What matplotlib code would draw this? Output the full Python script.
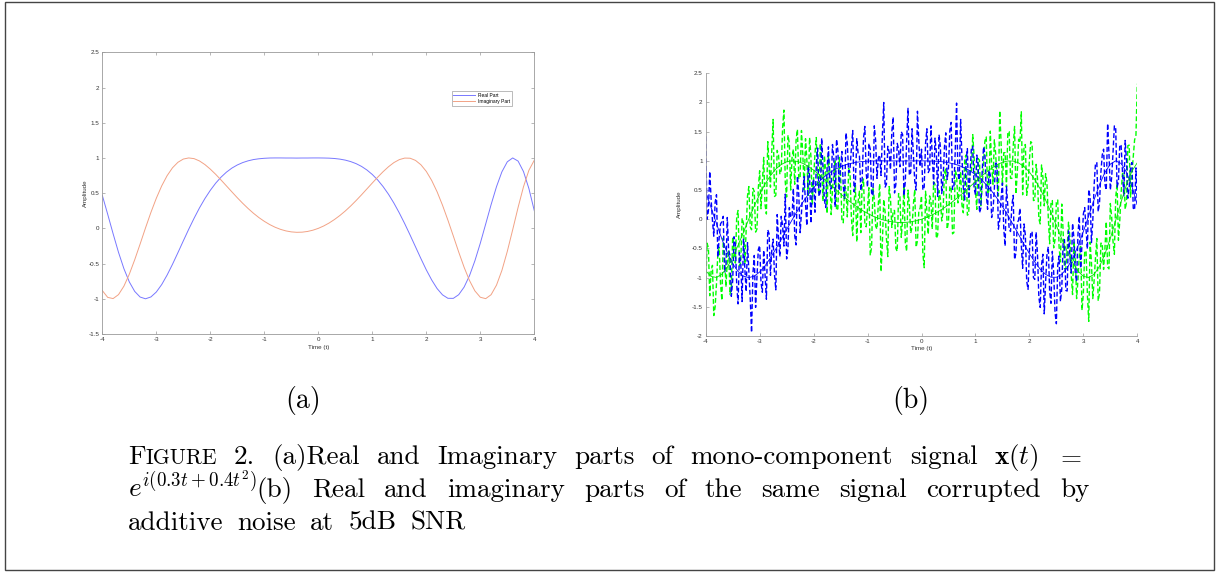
import numpy as np
import matplotlib
matplotlib.use("Agg")
import matplotlib.pyplot as plt
from matplotlib.patches import Rectangle

plt.rcParams['font.family'] = ['Liberation Sans', 'DejaVu Sans']
plt.rcParams['mathtext.fontset'] = 'cm'
plt.rcParams['axes.unicode_minus'] = False

# ---------------- data ----------------
t_clean = np.linspace(-4, 4, 81)
real_part = [0.469, 0.200, -0.076, -0.340, -0.572, -0.760, -0.895, -0.975, -1.000, -0.974,
             -0.904, -0.798, -0.663, -0.510, -0.346, -0.178, -0.013, 0.144, 0.291, 0.423,
             0.540, 0.642, 0.728, 0.799, 0.856, 0.900, 0.934, 0.959, 0.977, 0.988,
             0.995, 0.999, 1.000, 1.000, 0.999, 0.999, 0.998, 0.999, 0.999, 1.000,
             1.000, 0.999, 0.997, 0.992, 0.983, 0.969, 0.948, 0.919, 0.880, 0.829,
             0.765, 0.687, 0.593, 0.484, 0.359, 0.219, 0.067, -0.095, -0.262, -0.429,
             -0.589, -0.733, -0.855, -0.944, -0.993, -0.994, -0.942, -0.834, -0.672, -0.460,
             -0.211, 0.062, 0.337, 0.592, 0.803, 0.945, 1.000, 0.955, 0.806, 0.565,
             0.251]
imag_part = [-0.883, -0.980, -0.997, -0.941, -0.821, -0.651, -0.446, -0.223, 0.006, 0.226,
             0.427, 0.603, 0.748, 0.860, 0.938, 0.984, 1.000, 0.990, 0.957, 0.906,
             0.841, 0.767, 0.686, 0.602, 0.518, 0.435, 0.356, 0.282, 0.214, 0.153,
             0.100, 0.054, 0.016, -0.014, -0.036, -0.050, -0.056, -0.054, -0.044, -0.026,
             0.000, 0.034, 0.076, 0.126, 0.183, 0.247, 0.318, 0.395, 0.476, 0.560,
             0.644, 0.727, 0.805, 0.875, 0.934, 0.976, 0.998, 0.996, 0.965, 0.903,
             0.809, 0.680, 0.519, 0.329, 0.117, -0.108, -0.336, -0.552, -0.741, -0.888,
             -0.978, -0.998, -0.942, -0.806, -0.597, -0.327, -0.019, 0.298, 0.591, 0.825,
             0.968]

# noisy samples (5 dB SNR), on the 0.05 grid and halfway between grid points
real_noisy_grid = [1.42, 0.14, 0.35, -0.29, 0.42, -0.31, -0.04, -0.91, 0.03, -0.62,
                   -1.06, -0.43, -1.45, -0.74, -0.33, -1.24, -0.90, -1.94, -0.62, -0.99,
                   -0.45, -1.25, -0.95, -0.18, -0.96, -0.34, -1.21, -0.33, 0.05, -0.46,
                   -0.68, 0.20, 0.04, -0.28, 0.74, -0.23, 0.49, 0.26, 0.92, -0.07,
                   0.69, 0.94, 0.39, 1.39, 0.33, 0.87, 0.60, 1.28, 0.21, 1.18,
                   0.90, 0.57, 1.48, 0.80, 1.21, 0.47, 1.38, 1.08, 0.69, 1.59,
                   0.55, 1.20, 0.40, 1.35, 1.05, 0.75, 2.00, 0.60, 1.15, 1.50,
                   0.45, 1.30, 0.90, 1.45, 0.65, 1.90, 0.80, 1.10, 0.50, 1.35,
                   1.20, 0.55, 1.55, 0.85, 1.05, 1.39, 0.39, 1.24, 0.68, 1.48,
                   0.87, 1.66, 0.55, 1.99, 0.67, 1.05, 0.33, 1.21, 0.78, 1.25,
                   0.42, 0.93, 0.19, 1.24, 0.44, 0.84, 0.03, 0.52, 0.91, -0.01,
                   0.62, -0.46, 0.22, -0.21, 0.41, -0.58, -0.01, -0.45, -0.08, -1.06,
                   -0.54, -0.21, -1.03, -0.60, -1.51, -0.60, -1.09, -0.47, -1.44, -0.90,
                   -1.79, -0.63, -1.19, -0.35, -1.23, -0.61, -0.07, -0.92, -0.26, -0.84,
                   0.09, -0.18, 0.51, -0.40, 0.59, 0.97, 0.29, 1.10, 0.60, 1.64,
                   0.50, 1.14, 1.55, 0.64, 1.26, 0.39, 1.01, 0.55, 0.97, 0.16,
                   0.25]
real_noisy_mid = [0.00, 0.82, -0.02, 0.29, -0.65, -0.08, 0.05, -0.82, -0.52, -1.32,
                  -0.30, -1.12, -0.57, -1.41, -0.84, -0.40, -1.35, -0.93, -1.51, -0.52,
                  -1.08, -0.53, -1.37, -0.25, -0.53, -0.95, 0.08, -0.64, -0.11, 0.43,
                  -0.49, 0.04, 0.53, -0.44, 0.43, 0.11, 0.73, -0.11, 0.75, 0.56,
                  0.12, 1.22, 0.47, 0.86, 0.20, 1.24, 0.52, 1.05, 1.37, 0.49,
                  1.16, 0.33, 1.29, 0.86, 1.52, 0.63, 1.13, 0.49, 1.39, 0.79,
                  1.30, 0.45, 1.60, 0.70, 1.10, 1.45, 0.55, 1.25, 0.85, 1.75,
                  0.60, 1.20, 1.50, 0.40, 1.35, 0.75, 1.55, 0.65, 1.85, 0.90,
                  0.50, 1.30, 0.80, 1.60, 0.60, 1.15, 1.45, 0.44, 1.23, 0.68,
                  1.52, 0.51, 1.15, 0.78, 1.71, 0.54, 0.97, 0.35, 1.22, 0.54,
                  1.10, 0.11, 0.82, 1.12, 0.17, 0.76, 0.15, 0.99, -0.17, 0.36,
                  -0.17, 0.56, -0.17, 0.24, -0.69, -0.07, 0.19, -0.84, -0.27, -1.20,
                  -0.23, -1.00, -0.22, -1.33, -0.78, -1.62, -0.61, -1.23, -0.55, -1.60,
                  -0.79, -1.41, -0.42, -1.22, -0.20, -0.92, -0.32, -1.07, 0.05, -0.43,
                  0.20, -0.51, 0.38, -0.03, 0.96, 0.13, 0.80, 1.20, 0.50, 1.12,
                  0.72, 1.60, 0.55, 1.28, 0.83, 1.35, 0.36, 0.89, 0.19, 0.88]
imag_noisy_grid = [-1.18, -0.49, -0.88, -1.65, -1.10, -0.48, -1.39, -0.59, -0.72, -1.29,
                   -0.30, -0.75, 0.15, -0.74, -0.07, -0.16, 0.56, -0.18, 0.48, -0.17,
                   0.83, 0.62, 0.25, 1.33, 0.55, 1.71, 0.41, 1.10, 0.84, 1.87,
                   0.38, 1.30, 1.05, 0.60, 1.54, 0.73, 1.11, 1.38, 0.41, 1.08,
                   0.69, 1.40, 0.42, 0.83, 1.09, 0.10, 0.85, 0.51, 1.02, 0.18,
                   0.79, -0.06, 0.51, 0.87, 0.03, 0.30, -0.39, 0.48, 0.60, -0.07,
                   0.20, -0.62, 0.55, -0.12, 0.27, -0.90, 0.34, -0.33, 0.56, -0.14,
                   0.15, -0.55, 0.39, -0.01, -0.40, 0.50, -0.24, 0.26, -0.48, 0.14,
                   0.40, -0.83, 0.13, 0.40, -0.17, 0.60, -0.27, 0.35, 0.13, 0.86,
                   -0.05, 0.53, -0.23, 0.76, 0.50, 0.24, 1.03, 0.07, 0.86, 1.45,
                   0.49, 1.04, 0.23, 0.97, 1.41, 0.49, 0.93, 1.36, 0.68, 1.86,
                   0.58, 1.14, 1.50, 0.70, 1.25, 0.43, 1.37, 1.84, 1.25, 0.41,
                   1.01, 1.30, 0.33, 0.70, -0.08, 0.73, 0.78, 0.03, 0.27, -0.49,
                   0.29, -0.47, 0.26, -0.85, -0.50, -0.30, -1.29, -0.62, -1.04, -0.44,
                   -1.28, -0.55, -1.75, -0.73, -1.04, -0.33, -1.26, -0.41, -0.50, -0.82,
                   0.27, -0.38, 0.38, -0.36, 0.45, 0.80, 0.29, 1.27, 0.78, 1.36,
                   2.32]
imag_noisy_mid = [-0.41, -1.31, -0.79, -1.50, -0.59, -1.11, -0.32, -1.16, -0.53, -1.15,
                  -0.50, 0.05, -0.80, 0.02, -0.77, 0.40, -0.13, 0.53, -0.22, 0.53,
                  0.18, 1.06, 0.09, 0.92, 1.18, 0.39, 1.18, 0.77, 1.56, 0.63,
                  1.44, 0.50, 1.20, 1.35, 0.69, 1.52, 0.50, 1.02, 1.40, 0.26,
                  1.12, 0.59, 1.30, 0.31, 0.82, 1.08, 0.08, 0.79, 0.15, 1.06,
                  -0.03, 0.58, 0.04, 0.80, -0.28, 0.58, 0.30, -0.23, 0.69, -0.13,
                  0.54, -0.48, 0.34, -0.17, 0.61, -0.41, 0.13, -0.64, 0.36, 0.15,
                  -0.50, 0.44, -0.31, 0.59, -0.55, 0.25, -0.14, 0.51, -0.37, 0.19,
                  -0.59, 0.48, -0.26, 0.32, 0.64, -0.33, 0.49, -0.03, 0.80, -0.17,
                  0.57, -0.25, 0.84, 0.28, 0.82, 0.11, 1.10, 0.09, 0.83, 1.07,
                  0.17, 1.01, 0.55, 1.34, 0.43, 1.51, 0.60, 1.12, 0.40, 1.32,
                  1.14, 0.55, 1.50, 0.70, 1.59, 0.78, 1.31, 0.42, 1.28, 0.59,
                  1.33, 0.32, 0.94, 0.01, 0.93, 0.23, 0.63, -0.42, 0.32, -0.35,
                  0.33, -0.73, -0.20, -0.85, -0.05, -0.95, -0.38, -1.36, -0.62, -1.56,
                  -0.54, -1.30, -0.39, -1.36, -0.66, -1.40, -0.41, -0.86, -0.04, -0.85,
                  0.04, -0.60, 0.61, -0.03, 0.78, 0.17, 1.26, 0.38, 1.07, 1.44]

xticks = [-4, -3, -2, -1, 0, 1, 2, 3, 4]
xtick_labels = ['-4', '-3', '-2', '-1', '0', '1', '2', '3', '4']
yticks_a = [-1.5, -1, -0.5, 0, 0.5, 1, 1.5, 2, 2.5]
ytick_labels_a = ['-1.5', '-1', '-0.5', '0', '0.5', '1', '1.5', '2', '2.5']
yticks_b = [-2, -1.5, -1, -0.5, 0, 0.5, 1, 1.5, 2, 2.5]
ytick_labels_b = ['-2', '-1.5', '-1', '-0.5', '0', '0.5', '1', '1.5', '2', '2.5']

# interleave grid and mid-grid samples into one noisy series
t_noisy = np.linspace(-4, 4, 321)
real_noisy = np.empty(321)
real_noisy[0::2] = real_noisy_grid
real_noisy[1::2] = real_noisy_mid
imag_noisy = np.empty(321)
imag_noisy[0::2] = imag_noisy_grid
imag_noisy[1::2] = imag_noisy_mid

# ---------------- figure ----------------
W, H = 1218, 573
fig = plt.figure(figsize=(W / 100, H / 100), dpi=100)
fig.patch.set_facecolor('white')


def fx(px):
    return px / W


def fy(py):
    return 1 - py / H


SPINE = '#9a9a9a'
TXT = '#333333'
SMALL = 4.5


def style(ax, yticks, ylabels, box):
    ax.set_xlim(-4, 4)
    ax.set_xticks(xticks, labels=xtick_labels)
    ax.set_yticks(yticks, labels=ylabels)
    ax.set_ylim(yticks[0], yticks[-1])
    ax.tick_params(direction='in', length=2.5, width=0.5, color=SPINE,
                   labelsize=SMALL, labelcolor=TXT, pad=2.3,
                   top=box, right=box)
    for name, sp in ax.spines.items():
        sp.set_color(SPINE)
        sp.set_linewidth(0.6)
        if not box and name in ('top', 'right'):
            sp.set_visible(False)
    ax.set_facecolor('white')


# panel (a)
axA = fig.add_axes([fx(102.3), fy(334), (534.3 - 102.3) / W, (334 - 52.3) / H])
axA.plot(t_clean, real_part, color='#7878ff', lw=0.7, label='Real Part')
axA.plot(t_clean, imag_part, color='#f2a285', lw=0.7, label='Imaginary Part')
style(axA, yticks_a, ytick_labels_a, True)
axA.set_xlabel('Time (t)', fontsize=SMALL, color=TXT)
axA.set_ylabel('Amplitude', fontsize=SMALL, color=TXT)
axA.xaxis.set_label_coords(0.5, -0.047)
axA.xaxis.label.set_va('center')
axA.yaxis.set_label_coords(-0.040, 0.5)
axA.yaxis.label.set_va('center')
leg = axA.legend(loc='upper right', bbox_to_anchor=(0.948, 0.862), fontsize=3.5,
                 frameon=True, fancybox=False, edgecolor='#888888', handlelength=4.5,
                 borderpad=0.35, labelspacing=0.25, handletextpad=0.6, borderaxespad=0)
leg.get_frame().set_linewidth(0.5)

# panel (b)
axB = fig.add_axes([fx(705.7), fy(336), (1137.3 - 705.7) / W, (336 - 73.3) / H])
axB.plot(t_noisy, imag_noisy, color='#00ff00', lw=1.0, ls=(0, (3.5, 1.8)))
axB.plot(t_noisy, real_noisy, color='#0000ff', lw=1.0, ls=(0, (3.5, 1.8)))
axB.plot(t_clean, real_part, color='#0000ff', lw=0.6)
axB.plot(t_clean, imag_part, color='#00e000', lw=0.6)
style(axB, yticks_b, ytick_labels_b, False)
axB.set_xlabel('Time (t)', fontsize=SMALL, color=TXT)
axB.set_ylabel('Amplitude', fontsize=SMALL, color=TXT)
axB.xaxis.set_label_coords(0.5, -0.048)
axB.xaxis.label.set_va('center')
axB.yaxis.set_label_coords(-0.060, 0.5)
axB.yaxis.label.set_va('center')

# ---------------- captions ----------------
CM = 'cmr10'
S = 19.5
LAB = 20.0
fig.text(fx(303), fy(407.7), '(a)', family=CM, size=LAB, ha='center', va='baseline')
fig.text(fx(911), fy(407.7), '(b)', family=CM, size=LAB, ha='center', va='baseline')

renderer = fig.canvas.get_renderer()


def measure(txt, size):
    a = fig.text(0, 0, txt, family=CM, size=size)
    w = a.get_window_extent(renderer).width
    a.remove()
    return w


def draw_line(words, x0, yb, x1):
    widths = [sum(measure(t, s) for t, s in w) for w in words]
    gap = (x1 - x0 - sum(widths)) / (len(words) - 1)
    x = x0
    for w, wd in zip(words, widths):
        xx = x
        for t, s in w:
            fig.text(fx(xx), fy(yb), t, family=CM, size=s, ha='left', va='baseline',
                     color='black')
            xx += measure(t, s)
        x += wd + gap


def plain(words):
    return [[(w, S)] for w in words]


line1 = ([[('F', S), ('IGURE', S * 0.8)], [('2.', S)], [('(a)Real', S)]]
         + plain(['and', 'Imaginary', 'parts', 'of', 'mono-component', 'signal'])
         + [[(r'$\mathbf{x}(t)$', S)], [(r'$=$', S)]])
line2 = ([[(r'$e^{i(0.3t+0.4t^2)}$', S), ('(b)', S)]]
         + plain(['Real', 'and', 'imaginary', 'parts', 'of', 'the', 'same', 'signal',
                  'corrupted', 'by']))
line3 = plain(['additive', 'noise', 'at', '5dB', 'SNR'])
draw_line(line1, 127.7, 464.3, 1082.0)
draw_line(line2, 127.7, 497.0, 1089.3)
draw_line(line3, 127.7, 530.0, 466.0)

# page border
fig.add_artist(Rectangle((fx(5), fy(570)), (1213.5 - 5) / W, (570 - 2) / H,
                         transform=fig.transFigure, fill=False, ec='#444444', lw=1.0))

fig.savefig('out.png', dpi=100, facecolor='white')
